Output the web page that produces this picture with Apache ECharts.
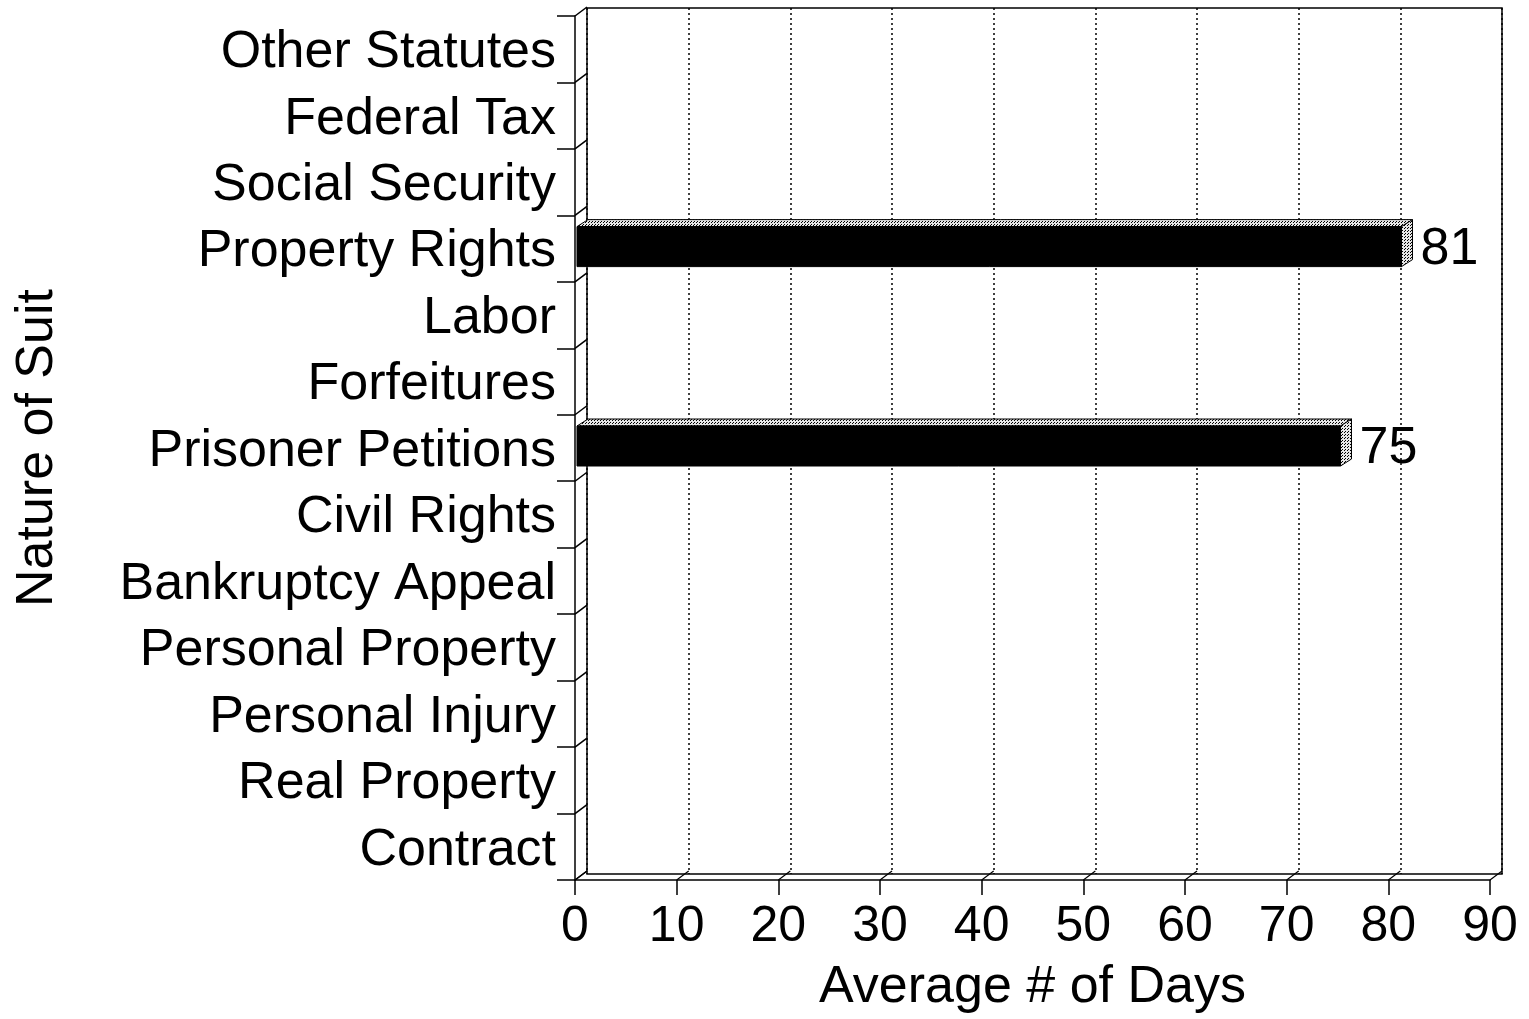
<!DOCTYPE html>
<html><head><meta charset="utf-8">
<script src="https://cdn.jsdelivr.net/npm/echarts@6/dist/echarts.min.js"></script>
<style>html,body{margin:0;padding:0;background:#fff}#c{width:1529px;height:1019px}</style>
</head><body><div id="c"></div>
<script>
const categories = ['Contract','Real Property','Personal Injury','Personal Property','Bankruptcy Appeal','Civil Rights','Prisoner Petitions','Forfeitures','Labor','Property Rights','Social Security','Federal Tax','Other Statutes'];
const avgDays = [0,0,0,0,0,0,75,0,0,81,0,0,0];
const xTicks = [0,10,20,30,40,50,60,70,80,90];
const xMin = 0, xMax = 90, xStep = 10;

const FONT = "'Liberation Sans', Arial, Helvetica, sans-serif";
const DX = 12, DY = -9;    // wall depth
const BDX = 11, BDY = -7;  // bar depth
const BAR_H = 40;

// stipple pattern
const pc = document.createElement('canvas'); pc.width = 3; pc.height = 3;
const g = pc.getContext('2d');
g.fillStyle = '#e6e6e6'; g.fillRect(0,0,3,3);
g.fillStyle = '#000'; g.fillRect(0,0,1,1); g.fillRect(1,2,1,1);
const stipple = {image: pc, repeat: 'repeat'};

const chart = echarts.init(document.getElementById('c'));
chart.setOption({
  animation: false,
  backgroundColor: '#fff',
  grid: [
    {left: 575, right: 39, top: 16, bottom: 136},
    {left: 587, right: 27, top: 8, bottom: 145, show: true, borderColor: '#000', borderWidth: 1.5, backgroundColor: 'transparent'}
  ],
  xAxis: [
    {type: 'value', gridIndex: 0, min: xMin, max: xMax, interval: xStep,
     name: 'Average # of Days', nameLocation: 'middle', nameGap: 82,
     nameTextStyle: {fontFamily: FONT, fontSize: 52, color: '#000'},
     axisLine: {show: true, lineStyle: {color: '#000', width: 1.5}},
     axisTick: {show: true, length: 15, lineStyle: {color: '#000', width: 1.5}},
     axisLabel: {fontFamily: FONT, fontSize: 50, color: '#000', margin: 22},
     splitLine: {show: false}},
    {type: 'value', gridIndex: 1, min: xMin, max: xMax, interval: xStep,
     axisLine: {show: false}, axisTick: {show: false}, axisLabel: {show: false},
     splitLine: {show: true, lineStyle: {color: '#000', width: 1.5, type: [2, 3]}}}
  ],
  yAxis: [
    {type: 'category', gridIndex: 0, data: categories,
     name: 'Nature of Suit', nameLocation: 'middle', nameGap: 511, nameRotate: 90,
     nameTextStyle: {fontFamily: FONT, fontSize: 52, color: '#000'},
     axisLine: {show: true, lineStyle: {color: '#000', width: 1.5}},
     axisTick: {show: true, length: 18, interval: 0, lineStyle: {color: '#000', width: 1.5}},
     axisLabel: {color: '#000', margin: 19, interval: 0,
       formatter: v => '{a|' + v + '}',
       rich: {a: {fontFamily: FONT, fontSize: 52, color: '#000', padding: [7, 0, 0, 0]}}},
     splitLine: {show: false}},
    {type: 'value', gridIndex: 1, min: 0, max: 1, show: false}
  ],
  series: [
    { // left wall diagonals at category boundaries
      type: 'custom', xAxisIndex: 0, yAxisIndex: 0, clip: false, silent: true,
      data: categories.map((c, i) => [0, i]),
      renderItem: function (params, api) {
        const p = api.coord([api.value(0), api.value(1)]);
        const h = api.size([0, 1])[1];
        const children = [];
        const ys = [p[1] - h / 2];
        if (api.value(1) === 0) ys.push(p[1] + h / 2);
        ys.forEach(y => children.push({type: 'line', shape: {x1: p[0], y1: y, x2: p[0] + DX, y2: y + DY},
          style: {stroke: '#000', lineWidth: 1.5}}));
        return {type: 'group', children: children};
      }
    },
    { // floor diagonals at x ticks
      type: 'custom', xAxisIndex: 0, yAxisIndex: 0, clip: false, silent: true,
      data: xTicks.map(v => [v, 0]),
      renderItem: function (params, api) {
        const p = api.coord([api.value(0), api.value(1)]);
        const h = api.size([0, 1])[1];
        const y = p[1] + h / 2;
        return {type: 'line', shape: {x1: p[0], y1: y, x2: p[0] + DX, y2: y + DY},
          style: {stroke: '#000', lineWidth: 1.2}};
      }
    },
    { // 3D bars
      type: 'custom', xAxisIndex: 0, yAxisIndex: 0, clip: false, z: 5,
      data: avgDays.map((v, i) => [v, i]),
      renderItem: function (params, api) {
        const v = api.value(0);
        if (!v) return null;
        const p0 = api.coord([0, api.value(1)]);
        const p1 = api.coord([v, api.value(1)]);
        const x0 = p0[0] + 2, x1 = p1[0] + 3, yt = p0[1] - BAR_H / 2 - 2, yb = p0[1] + BAR_H / 2 - 2;
        return {type: 'group', children: [
          {type: 'polygon', shape: {points: [[x0, yt], [x1, yt], [x1 + BDX, yt + BDY], [x0 + BDX, yt + BDY]]},
           style: {fill: stipple, stroke: '#000', lineWidth: 1}},
          {type: 'polygon', shape: {points: [[x1, yt], [x1 + BDX, yt + BDY], [x1 + BDX, yb + BDY], [x1, yb]]},
           style: {fill: stipple, stroke: '#000', lineWidth: 1}},
          {type: 'rect', shape: {x: x0, y: yt, width: x1 - x0, height: yb - yt},
           style: {fill: '#000', stroke: '#000', lineWidth: 1}},
          {type: 'text', x: x1 + BDX + 8, y: p0[1] + 1,
           style: {text: String(v), fontFamily: FONT, fontSize: 52, fill: '#000', align: 'left', verticalAlign: 'middle'}}
        ]};
      }
    }
  ]
});
</script>
</body></html>
